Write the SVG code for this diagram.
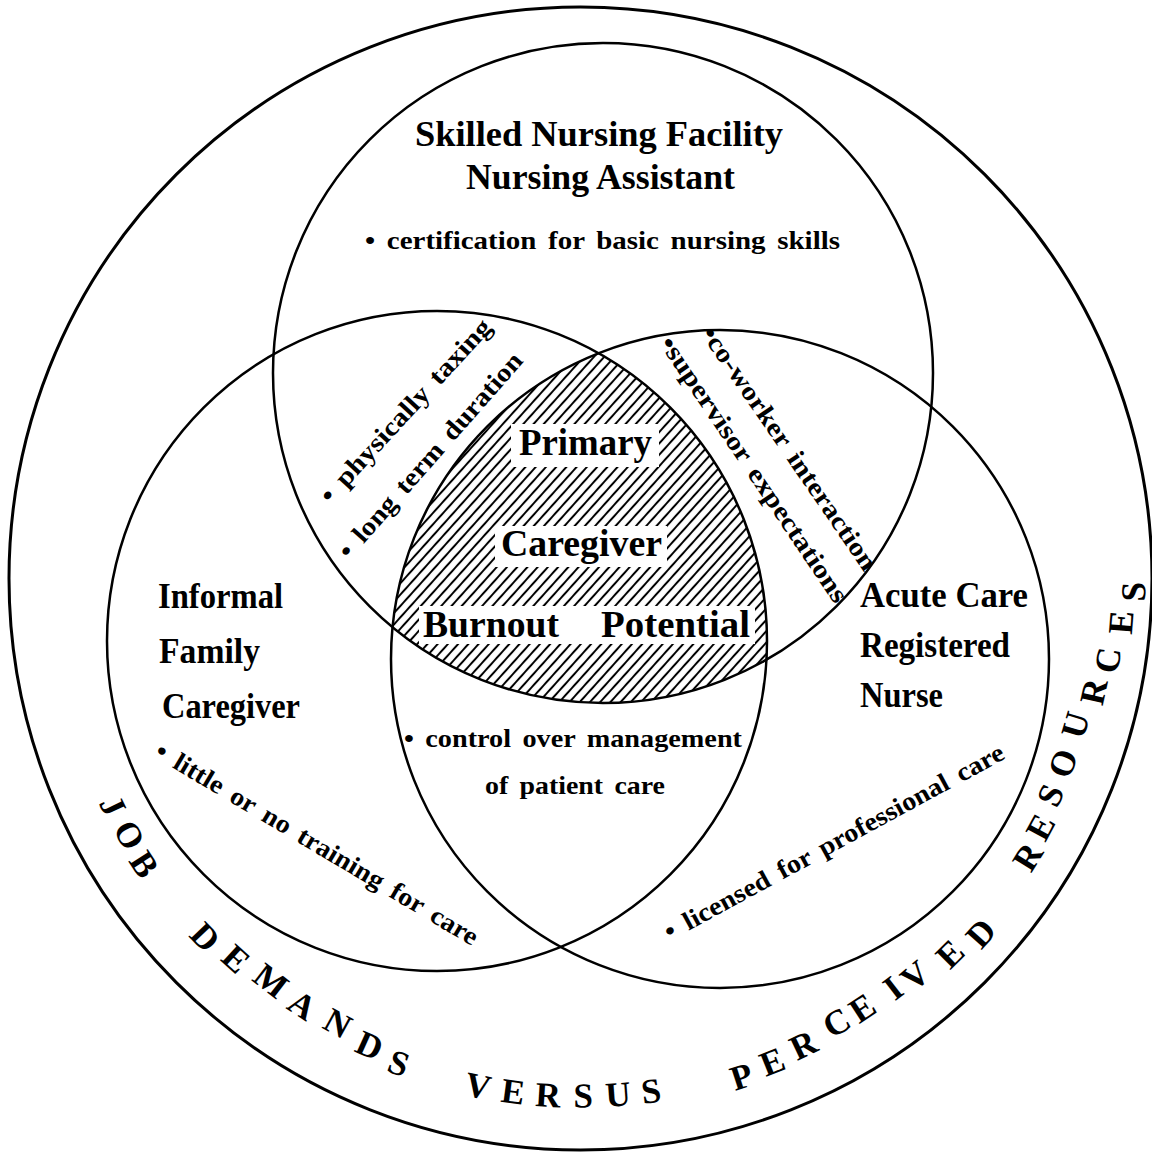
<svg xmlns="http://www.w3.org/2000/svg" width="1152" height="1153" viewBox="0 0 1152 1153">
  <defs>
    <!-- diagonal hatching for the three-way overlap -->
    <pattern id="hatch" patternUnits="userSpaceOnUse" width="7.6" height="20" patternTransform="rotate(42)">
      <line x1="3.8" y1="-1" x2="3.8" y2="21" stroke="#000" stroke-width="2"/>
    </pattern>
  </defs>
  <style>
    .ring { fill: none; stroke: #000; stroke-width: 2.5; }
    .outer { fill: none; stroke: #000; stroke-width: 3; }
    text { font-family: "Liberation Serif", "Times New Roman", serif; font-weight: bold; fill: #000; }
    .lab { font-size: 35px; }
    .core { font-size: 37px; }
    .note { font-size: 26px; word-spacing: 4px; }
    .arc { font-size: 35px; }
  </style>

  <rect width="1152" height="1153" fill="#fff"/>

  <!-- shared region of all three roles -->
  <g id="overlap">
    <path d="M598.5,353.3 A329,329 0 0 0 392.5,627.2 A330,330 0 0 0 766.5,659.7 A330,330 0 0 0 598.5,353.3 Z" fill="url(#hatch)"/>
    <rect x="511" y="424" width="148" height="43" fill="#fff"/>
    <rect x="495" y="526" width="172" height="41" fill="#fff"/>
    <rect x="419" y="606" width="336" height="38" fill="#fff"/>
    <text class="core" x="519" y="455" textLength="133" lengthAdjust="spacingAndGlyphs">Primary</text>
    <text class="core" x="501" y="556" textLength="161" lengthAdjust="spacingAndGlyphs">Caregiver</text>
    <text class="core" x="423" y="637" textLength="136" lengthAdjust="spacingAndGlyphs">Burnout</text>
    <text class="core" x="601" y="637" textLength="149" lengthAdjust="spacingAndGlyphs">Potential</text>
  </g>

  <!-- outer boundary: job demands versus perceived resources -->
  <g id="outer-frame">
    <circle class="outer" cx="580.5" cy="578.5" r="571.5"/>
    <text class="arc" x="98.5 112.5 128.0" y="803.0 829.0 861.0" rotate="64.3 60.6 56.9">JOB</text>
    <text class="arc" x="188.0 219.5 250.8 285.2 321.0 353.2 385.6" y="936.0 959.8 980.0 1008.0 1027.4 1050.9 1070.8" rotate="46.3 42.2 37.6 33.2 28.7 24.4 20.6">DEMANDS</text>
    <text class="arc" x="463.3 500.0 534.8 573.4 606.3 642.9" y="1094.9 1101.7 1105.9 1107.6 1107.0 1103.9" rotate="11.4 7.5 3.6 -0.3 -4.2 -7.8">VERSUS</text>
    <text class="arc" x="735.0 765.8 797.0 831.5 858.9 894.7 913.0 949.9 981.3" y="1091.1 1076.9 1061.1 1038.9 1024.3 1001.6 992.8 970.4 950.5" rotate="-17.9 -21.7 -25.5 -30 -33.3 -37.4 -40.1 -44.5 -48.4">PERCEIVED</text>
    <text class="arc" x="1031.0 1045.2 1056.9 1068.9 1083.1 1102.6 1117.5 1131.8 1145.1" y="873.7 843.1 809.0 780.2 740.4 706.6 674.4 635.0 601.7" rotate="-58.1 -61.6 -65.3 -69.0 -73.5 -77.6 -81.2 -85.4 -88.6">RESOURCES</text>
  </g>

  <!-- skilled nursing facility nursing assistant -->
  <g id="snf-assistant">
    <circle class="ring" cx="603" cy="373" r="330"/>
    <text class="lab" x="415" y="146" textLength="368" lengthAdjust="spacingAndGlyphs">Skilled Nursing Facility</text>
    <text class="lab" x="466" y="189" textLength="269" lengthAdjust="spacingAndGlyphs">Nursing Assistant</text>
    <text class="note" x="365" y="249" textLength="475" lengthAdjust="spacingAndGlyphs">• certification for basic nursing skills</text>
  </g>

  <!-- informal family caregiver -->
  <g id="family-caregiver">
    <circle class="ring" cx="437" cy="641" r="330"/>
    <text class="lab" x="158" y="608" textLength="125" lengthAdjust="spacingAndGlyphs">Informal</text>
    <text class="lab" x="159" y="663" textLength="101" lengthAdjust="spacingAndGlyphs">Family</text>
    <text class="lab" x="162" y="718" textLength="138" lengthAdjust="spacingAndGlyphs">Caregiver</text>
    <text class="note" transform="translate(153.2,756.1) rotate(30.8)" textLength="371" lengthAdjust="spacingAndGlyphs">• little or no training for care</text>
  </g>

  <!-- acute care registered nurse -->
  <g id="acute-rn">
    <circle class="ring" cx="720" cy="659" r="329"/>
    <text class="lab" x="860" y="607" textLength="168" lengthAdjust="spacingAndGlyphs">Acute Care</text>
    <text class="lab" x="860" y="657" textLength="150" lengthAdjust="spacingAndGlyphs">Registered</text>
    <text class="lab" x="860" y="707" textLength="83" lengthAdjust="spacingAndGlyphs">Nurse</text>
    <text class="note" transform="translate(669.8,940.8) rotate(-28.5)" textLength="383" lengthAdjust="spacingAndGlyphs">• licensed for professional care</text>
  </g>

  <!-- pairwise overlap notes -->
  <g id="snf-family-notes">
    <text class="note" transform="translate(330.6,504.9) rotate(-47.4)" textLength="240" lengthAdjust="spacingAndGlyphs">• physically taxing</text>
    <text class="note" transform="translate(349.2,560.6) rotate(-48.7)" textLength="265" lengthAdjust="spacingAndGlyphs">• long term duration</text>
  </g>
  <g id="snf-rn-notes">
    <text class="note" transform="translate(700.2,333.6) rotate(55.5)" textLength="290" lengthAdjust="spacingAndGlyphs">•co-worker interaction</text>
    <text class="note" transform="translate(658.8,343.6) rotate(56)" textLength="315" lengthAdjust="spacingAndGlyphs">•supervisor expectations</text>
  </g>
  <g id="family-rn-notes">
    <text class="note" x="404" y="747" textLength="338" lengthAdjust="spacingAndGlyphs">• control over management</text>
    <text class="note" x="485" y="794" textLength="180" lengthAdjust="spacingAndGlyphs">of patient care</text>
  </g>
</svg>
